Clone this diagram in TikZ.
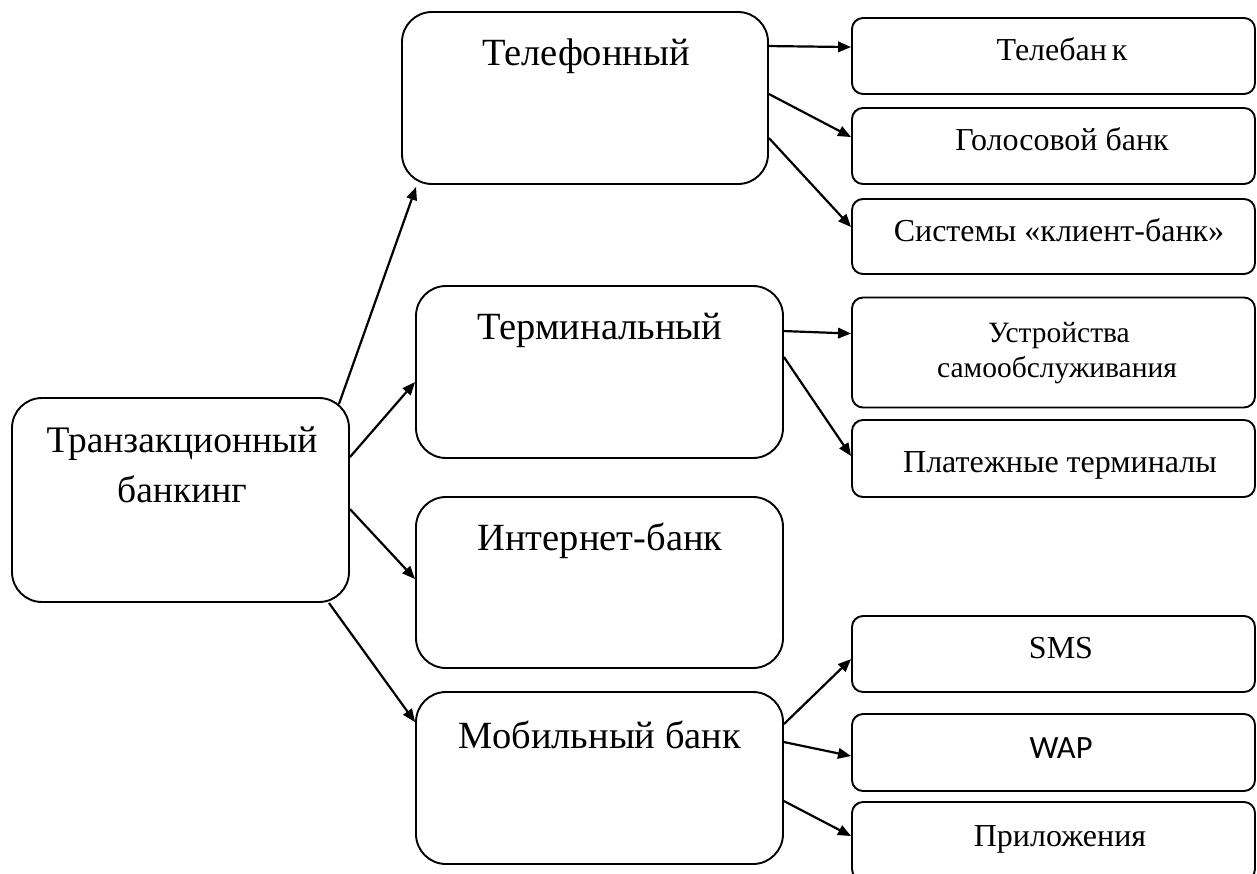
\documentclass[tikz,border=0pt]{standalone}
\usepackage{fontspec}
\setmainfont{Liberation Serif}
\newfontfamily\wapfont{Carlito}
\usetikzlibrary{arrows.meta,calc}
\begin{document}
\begin{tikzpicture}[x=1pt,y=-1pt,
  bigbox/.style={draw,line width=1.9pt,rounded corners=30pt,inner sep=0pt},
  smallbox/.style={draw,line width=1.9pt,rounded corners=11pt,inner sep=0pt,minimum width=403pt},
  bigtxt/.style={anchor=base,inner sep=0pt,font=\fontsize{38.5}{46}\selectfont},
  smalltxt/.style={anchor=base,inner sep=0pt,font=\fontsize{32}{38}\selectfont},
  ustxt/.style={anchor=base,inner sep=0pt,font=\fontsize{29.5}{34}\selectfont},
  arr/.style={line width=2.2pt,-{Triangle[length=13pt,width=10.5pt]}}]
\useasboundingbox (0,0) rectangle (1257,873);
\fill[white] (0,0) rectangle (1257,873);
% main boxes
\node[bigbox,minimum width=337pt,minimum height=204pt] (trans) at (180.5,500) {};
\node[bigbox,minimum width=366pt,minimum height=172pt] (tel) at (585,98) {};
\node[bigbox,minimum width=367pt,minimum height=172pt] (term) at (599.5,372) {};
\node[bigbox,minimum width=367pt,minimum height=171pt] (inet) at (599.5,582.5) {};
\node[bigbox,minimum width=367pt,minimum height=172pt] (mob) at (599.5,778) {};
% right boxes
\node[smallbox,minimum height=76pt] (tb) at (1053.5,56) {};
\node[smallbox,minimum height=76pt] (gb) at (1053.5,146) {};
\node[smallbox,minimum height=75pt] (sk) at (1053.5,236.5) {};
\node[smallbox,minimum height=110pt] (us) at (1053.5,352.5) {};
\node[smallbox,minimum height=77pt] (pt) at (1053.5,458.5) {};
\node[smallbox,minimum height=76pt] (sms) at (1053.5,654) {};
\node[smallbox,minimum height=77pt] (wap) at (1053.5,752.5) {};
\node[smallbox,minimum height=78pt] (pr) at (1053.5,841) {};
% texts
\node[bigtxt,font=\fontsize{37.5}{45}\selectfont] (transa) at (182,452) {Транзакционный};
\node[bigtxt,font=\fontsize{37.5}{45}\selectfont] (transb) at (182,502) {банкинг};
\node[bigtxt] (telt) at (586,65) {Телефонный};
\node[bigtxt] (termt) at (600,339) {Терминальный};
\node[bigtxt] (inett) at (600,550) {Интернет-банк};
\node[bigtxt] (mobt) at (600,748) {Мобильный банк};
\node[smalltxt] (tbt) at (1062,60) {Телебан\kern0.15em к};
\node[smalltxt] (gbt) at (1062,150) {Голосовой банк};
\node[smalltxt] (skt) at (1059,241) {Системы «клиент-банк»};
\node[ustxt] (usta) at (1059,342) {Устройства};
\node[ustxt] (ustb) at (1057,377) {самообслуживания};
\node[smalltxt] (ptt) at (1060,472) {Платежные терминалы};
\node[smalltxt] (smst) at (1061,658) {SMS};
\node[smalltxt,font=\wapfont\fontsize{32.5}{38}\selectfont] (wapt) at (1061,758) {WAP};
\node[smalltxt] (prt) at (1060,846) {Приложения};
% arrows from transaction box
\draw[arr] ($(trans.north east)+(-11,7)$) -- ($(tel.south west)+(15,2)$);
\draw[arr] ($(trans.north east)+(0,60)$) -- ($(term.north west)+(0,97)$);
\draw[arr] ($(trans.north east)+(0,112)$) -- ($(inet.north west)+(0,83)$);
\draw[arr] ($(trans.south east)+(-21,0)$) -- ($(mob.north west)+(0,31)$);
% telephone
\draw[arr] ($(tel.north east)+(0,35)$) -- ($(tb.north west)+(0,30)$);
\draw[arr] ($(tel.north east)+(0,83)$) -- ($(gb.north west)+(0,30)$);
\draw[arr] ($(tel.north east)+(0,127)$) -- ($(sk.north west)+(0,29)$);
% terminal
\draw[arr] ($(term.north east)+(0,46)$) -- ($(us.north west)+(0,37)$);
\draw[arr] ($(term.north east)+(0,72)$) -- ($(pt.north west)+(0,37)$);
% mobile
\draw[arr] ($(mob.north east)+(0,33)$) -- ($(sms.north west)+(0,44)$);
\draw[arr] ($(mob.north east)+(0,51)$) -- ($(wap.north west)+(0,43)$);
\draw[arr] ($(mob.north east)+(0,110)$) -- ($(pr.north west)+(0,35)$);
\end{tikzpicture}
\end{document}
